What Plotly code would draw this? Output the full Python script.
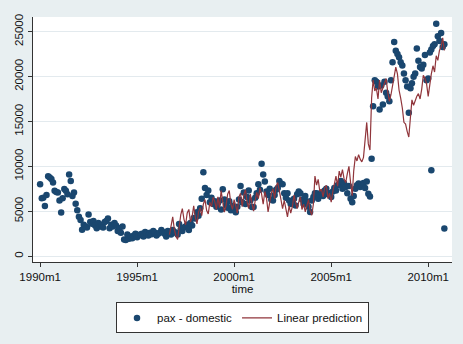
import pandas as pd
import plotly.graph_objects as go

# pax - domestic, monthly from 1990m1 (one list per year)
pax = {
    1990: [8000, 6450, 6500, 5580, 6820, 8900, 8750, 8600, 8190, 7280, 7150, 7100],
    1991: [6200, 4860, 6450, 7470, 7280, 6900, 9100, 8370, 6700, 7100, 5830, 5100],
    1992: [4380, 4020, 2930, 3500, 3300, 3200, 4640, 3800, 3600, 3900, 3400, 3100],
    1993: [3700, 3300, 3500, 3200, 3800, 3900, 4200, 3100, 3500, 3300, 3700, 3400],
    1994: [2800, 3100, 2600, 3300, 1850, 1800, 2400, 1950, 2200, 2000, 2300, 2500],
    1995: [2100, 2300, 2400, 2500, 2200, 2700, 2500, 2300, 2600, 2450, 2800, 2600],
    1996: [2300, 2500, 2600, 2900, 2700, 2500, 2200, 2800, 2600, 2400, 2900, 2700],
    1997: [2600, 2400, 3590, 3000, 2800, 3200, 3300, 3500, 2900, 3700, 3400, 4240],
    1998: [4200, 4900, 4500, 5330, 6400, 9350, 7600, 6800, 7300, 6000, 6500, 5800],
    1999: [6100, 5500, 5900, 6200, 5200, 7450, 6300, 5700, 5400, 6100, 5100, 5600],
    2000: [5100, 4900, 5500, 6300, 7820, 6000, 7100, 5800, 6600, 7300, 6200, 5470],
    2001: [5470, 6500, 7000, 8000, 7400, 10290, 9100, 8300, 7200, 6800, 7500, 6300],
    2002: [6200, 6800, 7400, 7600, 8370, 8100, 8000, 7000, 6500, 7000, 6200, 5800],
    2003: [6000, 6400, 5650, 6900, 7200, 7000, 6300, 5800, 6700, 6100, 5500, 4920],
    2004: [6200, 6600, 7000, 7000, 6400, 6800, 7100, 6700, 7300, 7500, 6900, 7000],
    2005: [6600, 7200, 7600, 7300, 7900, 8000, 8370, 7500, 8100, 7700, 7000, 7800],
    2006: [6400, 6000, 6700, 7500, 7900, 8100, 7700, 8000, 8150, 7600, 8300, 6960],
    2007: [6630, 10840, 16700, 19600, 19420, 18880, 16340, 19000, 16880, 19420, 18200, 17790],
    2008: [17250, 19600, 21600, 23840, 22860, 22500, 22140, 21600, 21230, 20330, 19600, 18880],
    2009: [15980, 18700, 19240, 19970, 20330, 23120, 21770, 21050, 20900, 21300, 22390, 19600],
    2010: [19780, 22680, 23000, 23400, 23590, 25870, 24490, 23950, 24860, 23290, 23600],
}
# extra observations sharing a month with the above
extra_dates = ["2010-03-01", "2010-11-01"]
extra_values = [9560, 3080]

# Linear prediction, monthly from 1996m9
pred = {
    1996: [2400, 3200, 4380, 3000],
    1997: [2200, 1850, 3400, 4600, 5300, 4100, 3500, 4800, 5200, 3800, 4400, 5600],
    1998: [4300, 3600, 4900, 5400, 4500, 5800, 6300, 5100, 4700, 6000, 5500, 6560],
    1999: [6100, 5200, 6600, 5400, 7300, 6200, 4900, 5600, 6900, 7300, 5800, 5200],
    2000: [6300, 5600, 4800, 6600, 7000, 5500, 6800, 7400, 6000, 5300, 6900, 5900],
    2001: [5000, 6200, 7100, 6400, 7600, 6900, 5800, 7200, 6500, 4920, 6100, 7000],
    2002: [7500, 6400, 7800, 8190, 7300, 6100, 5290, 6200, 5000, 4380, 5600, 4800],
    2003: [5500, 6800, 6010, 5300, 6010, 6600, 5200, 5800, 4920, 5500, 6300, 5100],
    2004: [4560, 5800, 8910, 7900, 8540, 7200, 7470, 6600, 7600, 7900, 6400, 7000],
    2005: [6010, 7200, 8000, 8910, 7800, 9460, 8800, 9640, 8600, 8190, 9200, 10000],
    2006: [8200, 6740, 9500, 11090, 10600, 11300, 10800, 10500, 11000, 12800, 14890, 12500],
    2007: [11820, 17610, 19600, 18400, 18700, 17500, 19600, 18200, 18700, 19100, 19780, 18300],
    2008: [17250, 18000, 19060, 20200, 21050, 20300, 18500, 17600, 16500, 14900, 14700, 13900],
    2009: [13260, 15500, 17400, 16800, 17400, 17800, 18100, 17500, 18600, 20140, 19800, 19200],
    2010: [17800, 19500, 20300, 21200, 20500, 22320, 21800, 22900, 23300, 24300, 22900],
}

tick_vals = ["1990-01-01", "1995-01-01", "2000-01-01", "2005-01-01", "2010-01-01"]
tick_text = ["1990m1", "1995m1", "2000m1", "2005m1", "2010m1"]
y_ticks = [0, 5000, 10000, 15000, 20000, 25000]

pax_values = [v for yr in sorted(pax) for v in pax[yr]]
pax_dates = list(pd.date_range("1990-01-01", periods=len(pax_values), freq="MS"))
pred_values = [v for yr in sorted(pred) for v in pred[yr]]
pred_dates = list(pd.date_range("1996-09-01", periods=len(pred_values), freq="MS"))

sc_x = pax_dates + list(pd.to_datetime(extra_dates))
sc_y = pax_values + extra_values

NAVY = "#1a476f"
MAROON = "#90353b"
BG = "#e8eff1"
FONT = "Liberation Sans, Arial, sans-serif"

fig = go.Figure()
fig.add_trace(go.Scatter(
    x=sc_x, y=sc_y, mode="markers", name="pax - domestic",
    marker=dict(color=NAVY, size=6.5, line=dict(width=0)),
))
fig.add_trace(go.Scatter(
    x=pred_dates, y=pred_values, mode="lines", name="Linear prediction",
    line=dict(color=MAROON, width=1.2),
))

fig.update_layout(
    width=463, height=344,
    margin=dict(l=33, r=11, t=17, b=76),
    paper_bgcolor=BG, plot_bgcolor="white",
    font=dict(family=FONT, size=11.5, color="#111111"),
    showlegend=True,
    legend=dict(
        orientation="h", x=0.5, xanchor="center", y=-0.165, yanchor="top",
        bgcolor="white", bordercolor="#333333", borderwidth=1,
        font=dict(size=11.5), itemwidth=30,
    ),
    xaxis=dict(
        range=["1989-08-20", "2011-03-25"],
        tickvals=tick_vals, ticktext=tick_text,
        showgrid=False, zeroline=False,
        showline=True, linecolor="#333333", linewidth=1,
        ticks="outside", ticklen=4, tickcolor="#333333",
        title=dict(text="time", standoff=2, font=dict(size=11.5)),
    ),
    yaxis=dict(
        range=[-652, 26630],
        tickvals=y_ticks, ticktext=[str(v) for v in y_ticks],
        tickangle=-90,
        showgrid=True, gridcolor="#e3eaee", gridwidth=1, zeroline=False,
        showline=True, linecolor="#333333", linewidth=1,
        ticks="outside", ticklen=4, tickcolor="#333333",
    ),
)

fig.write_html("out.html")
